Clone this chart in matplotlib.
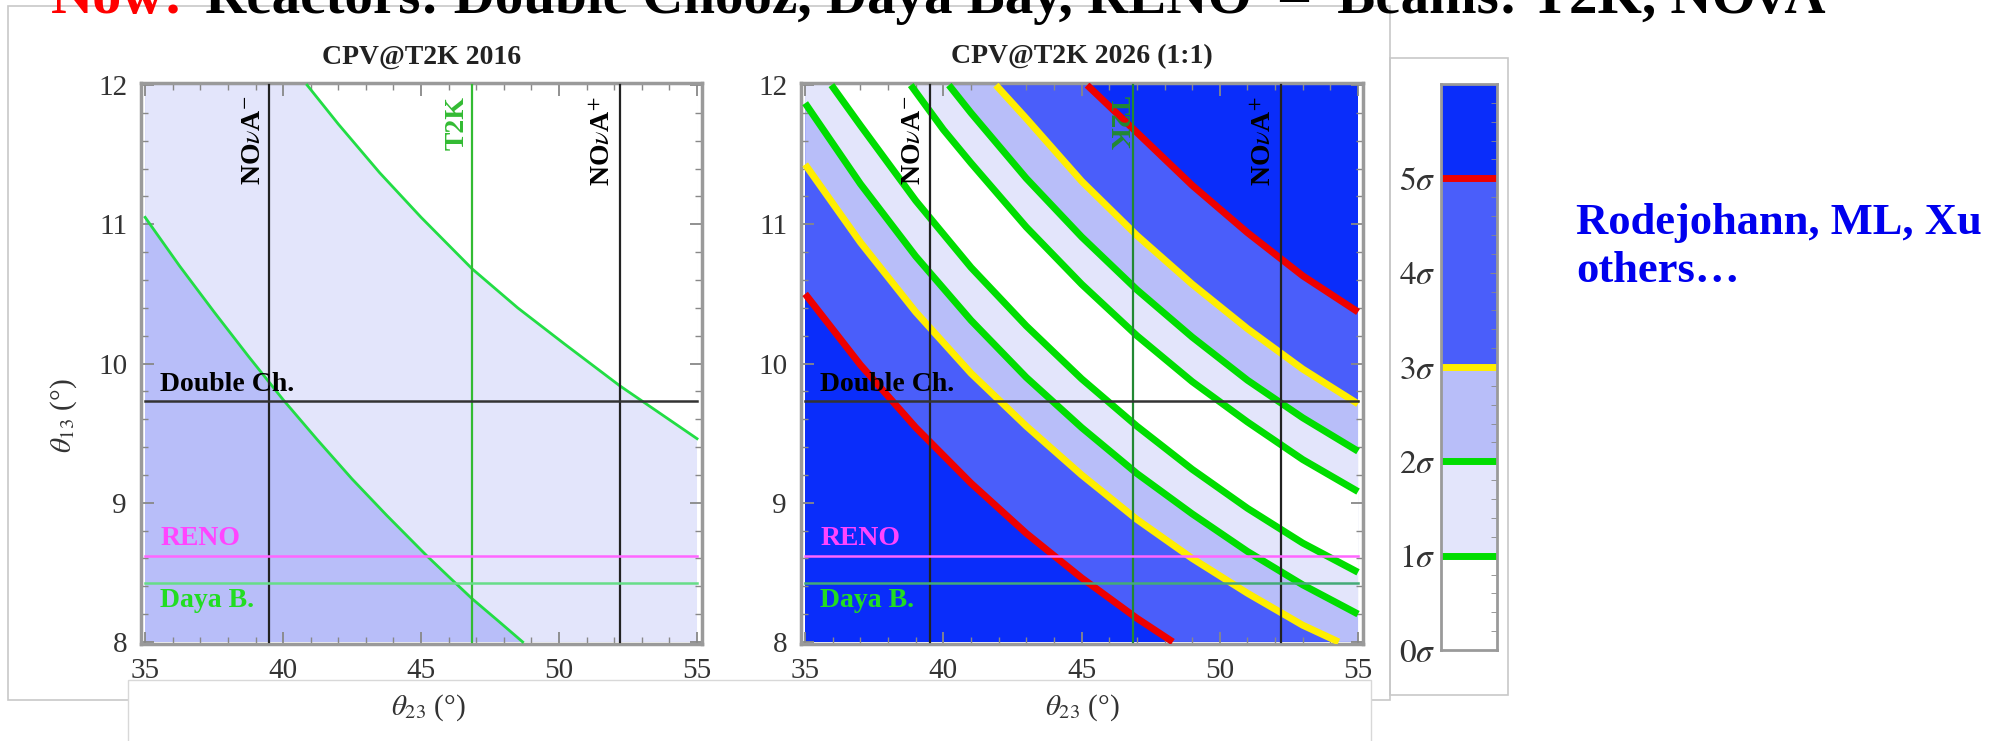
import matplotlib.pyplot as plt
from matplotlib.patches import Rectangle
from matplotlib.ticker import MultipleLocator

plt.rcParams['font.family'] = ['Liberation Serif', 'DejaVu Serif']
plt.rcParams['mathtext.fontset'] = 'stix'

# sigma bands of the colour bar: 0-1, 1-2, 2-3, 3-5, >5
sigma_edges = [0, 1, 2, 3, 5, 6]
band_cols = ['#ffffff', '#e3e5fb', '#b8bef9', '#4a5efa', '#0a2dfa']
sigma_lines = [1, 2, 3, 5]
sigma_line_cols = ['#00dd00', '#00dd00', '#ffee00', '#ee0000']
sigma_labels = [r'$0\sigma$', r'$1\sigma$', r'$2\sigma$', r'$3\sigma$', r'$4\sigma$', r'$5\sigma$']

# experiment best fits
nova_minus = 39.5
t2k = 46.85
nova_plus = 52.2
double_ch = 9.73
reno = 8.62
daya_b = 8.42

# CPV@T2K 2016 : 2 sigma and 1 sigma contours
l2_x = [35, 36.25, 37.5, 38.75, 40, 41.25, 42.5, 43.75, 45.2, 46.1, 46.85, 47.8, 48.68]
l2_y = [11.05, 10.70, 10.37, 10.05, 9.74, 9.45, 9.17, 8.91, 8.62, 8.45, 8.31, 8.15, 8.0]
l1_x = [40.87, 42, 43.5, 45, 46.85, 48.5, 50.2, 52.2, 55]
l1_y = [12.0, 11.72, 11.37, 11.05, 10.68, 10.40, 10.14, 9.84, 9.46]

# CPV@T2K 2026 (1:1) : contours from lower left to upper right
r5a_x = [35, 37, 39, 41, 43, 45, 47, 48.3]
r5a_y = [10.50, 9.99, 9.54, 9.14, 8.78, 8.46, 8.17, 8.0]
r3a_x = [35, 37, 39, 41, 43, 45, 47, 49, 51, 53, 54.3]
r3a_y = [11.43, 10.87, 10.37, 9.93, 9.55, 9.20, 8.88, 8.60, 8.35, 8.12, 8.0]
r2a_x = [35, 37, 39, 41, 43, 45, 47, 49, 51, 53, 55]
r2a_y = [11.87, 11.29, 10.77, 10.31, 9.90, 9.54, 9.21, 8.92, 8.65, 8.41, 8.20]
r1a_x = [35.95, 37, 39, 41, 43, 45, 47, 49, 51, 53, 55]
r1a_y = [12.0, 11.71, 11.17, 10.69, 10.27, 9.89, 9.55, 9.24, 8.96, 8.71, 8.50]
r1b_x = [38.82, 40, 41, 43, 45, 47, 49, 51, 53, 55]
r1b_y = [12.0, 11.68, 11.44, 10.98, 10.57, 10.20, 9.87, 9.58, 9.31, 9.08]
r2b_x = [40.2, 41, 43, 45, 47, 49, 51, 53, 55]
r2b_y = [12.0, 11.80, 11.33, 10.91, 10.53, 10.19, 9.88, 9.61, 9.37]
r3b_x = [41.9, 43, 45, 47, 49, 51, 53, 55]
r3b_y = [12.0, 11.76, 11.31, 10.92, 10.57, 10.25, 9.96, 9.71]
r5b_x = [45.2, 47, 49, 51, 53, 55]
r5b_y = [12.0, 11.66, 11.28, 10.94, 10.63, 10.37]

W, H = 2006, 741
fig = plt.figure(figsize=(W / 100, H / 100), dpi=100)


def px_box(x0, y0, x1, y1):
    # pixel box (top-left origin) -> figure fraction rect
    return [x0 / W, 1 - y1 / H, (x1 - x0) / W, (y1 - y0) / H]


def band(ax, lo_x, lo_y, hi_x, hi_y, col):
    xs = list(lo_x) + [55] + list(hi_x[::-1]) + [35]
    ys = list(lo_y) + [8] + list(hi_y[::-1]) + [12]
    ax.fill(xs, ys, color=col, lw=0, zorder=1)


def frame(ax):
    ax.set_xlim(34.85, 55.18)
    ax.set_ylim(7.985, 12.015)
    ax.set_xticks([35, 40, 45, 50, 55])
    ax.set_yticks([8, 9, 10, 11, 12])
    ax.xaxis.set_minor_locator(MultipleLocator(1))
    ax.yaxis.set_minor_locator(MultipleLocator(0.2))
    ax.tick_params(which='both', direction='in', top=True, right=True,
                   color='#888888', labelsize=21, labelcolor='#333333', pad=10)
    ax.tick_params(which='major', length=9, width=1.3)
    ax.tick_params(which='minor', length=5, width=1.0)
    for s in ax.spines.values():
        s.set_color('#9a9a9a')
        s.set_linewidth(2.5)


def exp_lines(ax, t2k_col, daya_col, t2k_rot):
    ax.plot([nova_minus, nova_minus], [8, 12], color='#222222', lw=1.6, zorder=4)
    ax.plot([nova_plus, nova_plus], [8, 12], color='#222222', lw=1.6, zorder=4)
    ax.plot([t2k, t2k], [8, 12], color=t2k_col, lw=1.6, zorder=4)
    ax.plot([35, 55], [double_ch, double_ch], color='#333333', lw=1.8, zorder=4)
    ax.plot([35, 55], [reno, reno], color='#ff66ff', lw=1.8, zorder=4)
    ax.plot([35, 55], [daya_b, daya_b], color=daya_col, lw=1.8, zorder=4)
    kw = dict(fontsize=20, fontweight='bold', zorder=5)
    ax.text(38.93, 11.92, r'NO$\nu$A$^{-}$', rotation=90, ha='center', va='top', color='black', **kw)
    ax.text(51.62, 11.92, r'NO$\nu$A$^{+}$', rotation=90, ha='center', va='top', color='black', **kw)
    ax.text(46.3, 11.92, 'T2K', rotation=t2k_rot, ha='center', va='top', color=t2k_col, **kw)
    ax.text(35.55, 9.85, 'Double Ch.', ha='left', va='center', color='black', **kw)
    ax.text(35.55, 8.74, 'RENO', ha='left', va='center', color='#ff44ff', **kw)
    ax.text(35.55, 8.30, 'Daya B.', ha='left', va='center', color='#22dd22', **kw)


# ---- left panel
ax1 = fig.add_axes(px_box(141, 83, 702, 644))
ax1.fill([35, 55, 55, 35], [8, 8, 12, 12], color=band_cols[2], lw=0, zorder=1)
ax1.fill(l2_x + [55, 55, 35], l2_y + [8, 12, 12], color=band_cols[1], lw=0, zorder=1)
ax1.fill(l1_x + [55], l1_y + [12], color=band_cols[0], lw=0, zorder=1)
ax1.plot(l2_x, l2_y, color='#22dd44', lw=2.0, zorder=3)
ax1.plot(l1_x, l1_y, color='#22dd44', lw=2.0, zorder=3)
frame(ax1)
exp_lines(ax1, '#33bb33', '#66dd88', 90)
ax1.set_title('CPV@T2K 2016', fontsize=20, fontweight='bold', color='#222222', pad=14)

# ---- right panel
ax2 = fig.add_axes(px_box(801, 83, 1363, 644))
ax2.fill([35, 55, 55, 35], [8, 8, 12, 12], color=band_cols[4], lw=0, zorder=1)
band(ax2, r5a_x, r5a_y, r5b_x, r5b_y, band_cols[3])
band(ax2, r3a_x, r3a_y, r3b_x, r3b_y, band_cols[2])
band(ax2, r2a_x, r2a_y, r2b_x, r2b_y, band_cols[1])
band(ax2, r1a_x, r1a_y, r1b_x, r1b_y, band_cols[0])
for cx, cy, c in [(r5a_x, r5a_y, '#ee0000'), (r3a_x, r3a_y, '#ffee00'),
                  (r2a_x, r2a_y, '#00dd00'), (r1a_x, r1a_y, '#00dd00'),
                  (r1b_x, r1b_y, '#00dd00'), (r2b_x, r2b_y, '#00dd00'),
                  (r3b_x, r3b_y, '#ffee00'), (r5b_x, r5b_y, '#ee0000')]:
    ax2.plot(cx, cy, color=c, lw=5, zorder=3, solid_capstyle='butt')
frame(ax2)
exp_lines(ax2, '#228833', '#44aa77', 270)
ax2.set_title('CPV@T2K 2026 (1:1)', fontsize=20, fontweight='bold', color='#222222', pad=14)

# axis labels
fig.text(64 / W, 1 - 416 / H, r'$\theta_{13}$ (°)', rotation=90, ha='center', va='center',
         fontsize=21, color='#333333')
fig.text(428 / W, 1 - 708 / H, r'$\theta_{23}$ (°)', ha='center', va='center', fontsize=21, color='#333333')
fig.text(1082 / W, 1 - 708 / H, r'$\theta_{23}$ (°)', ha='center', va='center', fontsize=21, color='#333333')

# ---- colour bar
axc = fig.add_axes(px_box(1441, 84, 1497, 650))
for i in range(len(band_cols)):
    axc.fill_between([0, 1], sigma_edges[i], sigma_edges[i + 1], color=band_cols[i], lw=0)
for lv, c in zip(sigma_lines, sigma_line_cols):
    axc.plot([0, 1], [lv, lv], color=c, lw=5)
axc.set_xlim(0, 1)
axc.set_ylim(0, 6)
axc.set_xticks([])
axc.set_yticks(range(6))
axc.set_yticklabels(sigma_labels)
axc.yaxis.set_minor_locator(MultipleLocator(0.2))
axc.tick_params(which='major', left=False, right=True, direction='in', length=5,
                color='#888888', labelsize=24, labelcolor='#333333', pad=4)
axc.tick_params(which='minor', left=False, right=True, direction='in', length=4, color='#888888')
for s in axc.spines.values():
    s.set_color('#9a9a9a')
    s.set_linewidth(2)

# slide boxes
fig.add_artist(Rectangle((8 / W, 1 - 700 / H), 1382 / W, 694 / H, transform=fig.transFigure,
                         fill=False, edgecolor='#c8c8c8', lw=1.2))
fig.add_artist(Rectangle((1390 / W, 1 - 695 / H), 118 / W, 637 / H, transform=fig.transFigure,
                         fill=False, edgecolor='#c8c8c8', lw=1.2))
fig.add_artist(Rectangle((128 / W, 1 - 760 / H), 1243 / W, 80 / H, transform=fig.transFigure,
                         facecolor='white', edgecolor='#d8d8d8', lw=1.0))

# slide heading (cut at the top) and side note
fig.text(51 / W, 1 - 13 / H, 'Now:', color='#ff0000', fontsize=42, fontweight='bold',
         va='baseline')
fig.text(205 / W, 1 - 13 / H, 'Reactors: Double Chooz, Daya Bay, RENO  \u2013  Beams: T2K, NOvA',
         color='black', fontsize=41, fontweight='bold', va='baseline')
fig.text(1576 / W, 1 - 223 / H, 'Rodejohann, ML, Xu', color='#0000ee', fontsize=32,
         fontweight='bold', va='center')
fig.text(1576 / W, 1 - 271 / H, 'others\u2026', color='#0000ee', fontsize=32,
         fontweight='bold', va='center')

fig.savefig('out.png', dpi=100)
